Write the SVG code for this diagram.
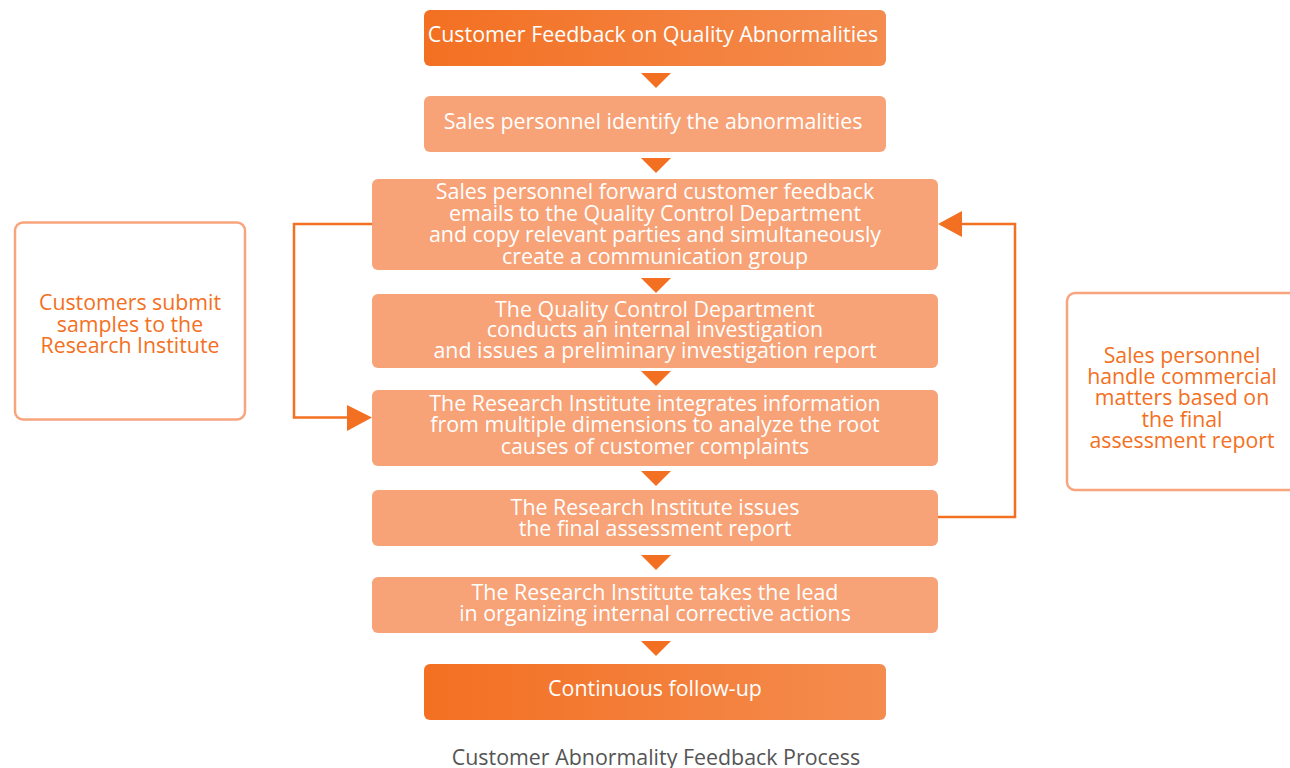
<svg xmlns="http://www.w3.org/2000/svg" width="1290" height="768" viewBox="0 0 1290 768">
<defs>
<linearGradient id="dark" x1="0" y1="0" x2="1" y2="0">
<stop offset="0" stop-color="#F37022"/>
<stop offset="1" stop-color="#F48C4F"/>
</linearGradient>
<style>
.dk{fill:url(#dark)}
.lt{fill:#F7A277}
.side{fill:#FFFFFF;stroke:#F8A57D;stroke-width:2.5}
.wt{font-family:"Open Sans","Noto Sans",sans-serif;font-size:21.4px;fill:#FFFFFF;text-anchor:middle}
.ot{font-family:"Open Sans","Noto Sans",sans-serif;font-size:21.3px;fill:#F37022;text-anchor:middle}
.cap{font-family:"Open Sans","Noto Sans",sans-serif;font-size:21.4px;fill:#555555;text-anchor:middle}
.tri{fill:#F37022}
.ln{fill:none;stroke:#F37022;stroke-width:2.5}
</style>
</defs>
<rect width="1290" height="768" fill="#FFFFFF"/>

<g id="n1"><rect class="dk" x="424" y="10" width="462" height="56" rx="6"/>
<text class="wt" x="653" y="41.5">Customer Feedback on Quality Abnormalities</text></g>

<g id="n2"><rect class="lt" x="424" y="96" width="462" height="56" rx="6"/>
<text class="wt" x="653" y="128.5">Sales personnel identify the abnormalities</text></g>

<g id="n3"><rect class="lt" x="372" y="179" width="566" height="91" rx="6"/>
<text class="wt" x="655" y="198.5">Sales personnel forward customer feedback</text>
<text class="wt" x="655" y="220.5">emails to the Quality Control Department</text>
<text class="wt" x="655" y="241.5">and copy relevant parties and simultaneously</text>
<text class="wt" x="655" y="263.5">create a communication group</text></g>

<g id="n4"><rect class="lt" x="372" y="294" width="566" height="74" rx="6"/>
<text class="wt" x="655" y="316.5">The Quality Control Department</text>
<text class="wt" x="655" y="336.5">conducts an internal investigation</text>
<text class="wt" x="655" y="357.5">and issues a preliminary investigation report</text></g>

<g id="n5"><rect class="lt" x="372" y="390" width="566" height="76" rx="6"/>
<text class="wt" x="655" y="410.5">The Research Institute integrates information</text>
<text class="wt" x="655" y="431.5">from multiple dimensions to analyze the root</text>
<text class="wt" x="655" y="453.5">causes of customer complaints</text></g>

<g id="n6"><rect class="lt" x="372" y="490" width="566" height="56" rx="6"/>
<text class="wt" x="655" y="514.5">The Research Institute issues</text>
<text class="wt" x="655" y="535.5">the final assessment report</text></g>

<g id="n7"><rect class="lt" x="372" y="577" width="566" height="56" rx="6"/>
<text class="wt" x="655" y="599.5">The Research Institute takes the lead</text>
<text class="wt" x="655" y="620.5">in organizing internal corrective actions</text></g>

<g id="n8"><rect class="dk" x="424" y="664" width="462" height="56" rx="6"/>
<text class="wt" x="655" y="695.5">Continuous follow-up</text></g>

<g id="s1"><rect class="side" x="15" y="222.5" width="230" height="197" rx="8"/>
<text class="ot" x="130" y="309.5">Customers submit</text>
<text class="ot" x="130" y="331.5">samples to the</text>
<text class="ot" x="130" y="352.5">Research Institute</text></g>

<g id="s2"><rect class="side" x="1067" y="293" width="240" height="197" rx="8"/>
<text class="ot" x="1182" y="362.5">Sales personnel</text>
<text class="ot" x="1182" y="383.5">handle commercial</text>
<text class="ot" x="1182" y="404.5">matters based on</text>
<text class="ot" x="1182" y="426.5">the final</text>
<text class="ot" x="1182" y="447.5">assessment report</text></g>

<g id="connectors">
<polygon class="tri" points="641,73 671,73 656,88"/>
<polygon class="tri" points="641,158 671,158 656,173"/>
<polygon class="tri" points="641,278 671,278 656,293"/>
<polygon class="tri" points="641,371 671,371 656,386"/>
<polygon class="tri" points="641,471 671,471 656,486"/>
<polygon class="tri" points="641,555 671,555 656,570"/>
<polygon class="tri" points="641,641 671,641 656,656"/>
<polyline class="ln" points="372,224 294,224 294,417.5 350,417.5"/>
<polygon class="tri" points="347,405 372,417.5 347,431"/>
<polyline class="ln" points="938,517 1015,517 1015,224 960,224"/>
<polygon class="tri" points="962,211 938,224 962,237"/>
</g>

<text class="cap" x="656" y="765">Customer Abnormality Feedback Process</text>
</svg>
